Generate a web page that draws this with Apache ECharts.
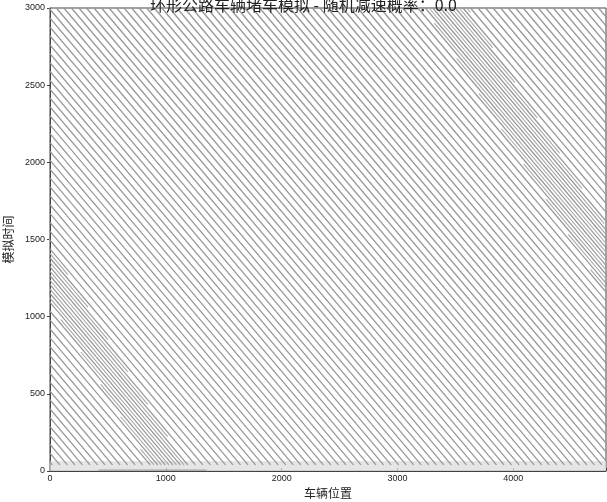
<!DOCTYPE html>
<html><head><meta charset="utf-8">
<script src="https://cdn.jsdelivr.net/npm/echarts@6/dist/echarts.min.js"></script>
<style>html,body{margin:0;padding:0;background:#fff}#c{width:607px;height:502px}</style>
</head><body><div id="c"></div>
<script>
const titleText = '环形公路车辆堵车模拟 - 随机减速概率：0.0';
const xName = '车辆位置';
const yName = '模拟时间';
const xTicks = [0, 1000, 2000, 3000, 4000];
const yTicks = [0, 500, 1000, 1500, 2000, 2500, 3000];
// position at t = 0 of each visible trajectory stripe
const stripeBaseX = [0,65,130,195,260,325,390,455,520,585,650,715,780,845,910,975,1040,1105,1170,1235,1300,1365,1430,1495,1560,1625,1690,1755,1820,1885,1950,2015,2080,2145,2210,2275,2340,2405,2470,2535,2600,2665,2730,2795,2860,2925,2990,3055,3120,3185,3250,3315,3380,3445,3510,3575,3640,3705,3770,3835,3900,3965,4030,4095,4160,4225,4290,4355,4420,4485,4550,4615,4680,4745,4810,4875,4940,5005,5070,5135,5200,5265,5330,5395,5460,5525,5590,5655,5720,5785,5850,5915,5980,6045,6110,6175,6240,6305,6370,6435,6500,6565,6630,6695,6760,6825,6890,6955,7020,7085,7150,7215,7280,7345,7410,7475,7540,7605,7670,7735,7800,7865,7930,7995,8060,8125,8190];
const stripeDrift = -1.13;          // position change per time step along a stripe
const stripeStartT = 40;            // stripes emerge from the initial transient here
// jam-wave bands (denser stripes): centre position at t=0, drift, half width
const bandCentreX0 = [5955, 1048];
const bandDrift = [-0.845, -0.82];
const bandHalfWidth = [185, 150];
const bandInterleave = [32];
// initial transient strip
const transientT = [0, 65];
const transientStreakX = [420, 1350];
const transientStreakT = 8;
const xMax = 4800, tMax = 3000;

const mainLines = stripeBaseX.map(x0 => ({
  coords: [[x0 + stripeDrift * stripeStartT, stripeStartT], [x0 + stripeDrift * tMax, tMax]]
}));
const bandLines = [];
bandCentreX0.forEach((c0, b) => {
  const r = stripeDrift - bandDrift[b];
  const w = bandHalfWidth[b];
  stripeBaseX.forEach(xb => {
    bandInterleave.forEach(off => {
      const x0 = xb + off;
      const d = x0 - c0;
      const t1 = (-w - d) / r, t2 = (w - d) / r;
      const lo = Math.max(Math.min(t1, t2), stripeStartT), hi = Math.min(Math.max(t1, t2), tMax);
      if (hi > lo) bandLines.push({ coords: [[x0 + stripeDrift * lo, lo], [x0 + stripeDrift * hi, hi]] });
    });
  });
});

const chart = echarts.init(document.getElementById('c'), null, { renderer: 'canvas' });
chart.setOption({
  animation: false,
  backgroundColor: '#fff',
  title: {
    text: titleText, left: 145, top: -8,
    textStyle: { fontFamily: 'Noto Sans CJK SC', fontSize: 16, fontWeight: 'normal', color: '#222' }
  },
  grid: { left: 50, right: 1, top: 8, bottom: 31, outerBoundsMode: 'none', containLabel: false,
    show: true, borderColor: '#444', borderWidth: 1, backgroundColor: 'transparent' },
  xAxis: {
    type: 'value', min: 0, max: xMax, interval: 1000,
    name: xName, nameLocation: 'middle', nameGap: 12,
    nameTextStyle: { fontFamily: 'Noto Sans CJK SC', fontSize: 12, color: '#222' },
    axisLine: { lineStyle: { color: '#444' } },
    axisTick: { inside: true, length: 3, lineStyle: { color: '#444' } },
    axisLabel: { fontSize: 9, color: '#222', margin: 3, fontFamily: 'Liberation Sans',
      formatter: v => xTicks.includes(v) ? String(v) : '' },
    splitLine: { show: false }
  },
  yAxis: {
    type: 'value', min: 0, max: tMax, interval: 500,
    name: yName, nameLocation: 'middle', nameGap: 33,
    nameTextStyle: { fontFamily: 'Noto Sans CJK SC', fontSize: 12, color: '#222' },
    axisLine: { lineStyle: { color: '#444' } },
    axisTick: { inside: false, length: 3, lineStyle: { color: '#444' } },
    axisLabel: { fontSize: 9, color: '#222', margin: 5, fontFamily: 'Liberation Sans',
      formatter: v => yTicks.includes(v) ? String(v) : '' },
    splitLine: { show: false }
  },
  series: [
    {
      type: 'lines', coordinateSystem: 'cartesian2d', clip: true, silent: true,
      lineStyle: { color: '#969696', width: 1.25, opacity: 1 },
      data: mainLines,
      markArea: {
        silent: true,
        itemStyle: { color: 'rgba(220,220,220,0.75)' },
        data: [[{ yAxis: transientT[0] }, { yAxis: transientT[1] }]]
      }
    },
    {
      type: 'lines', coordinateSystem: 'cartesian2d', clip: true, silent: true,
      lineStyle: { color: '#a8a8a8', width: 1.1, opacity: 1 },
      data: bandLines
    },
    {
      type: 'lines', coordinateSystem: 'cartesian2d', clip: true, silent: true,
      lineStyle: { color: 'rgba(80,80,80,0.45)', width: 2 },
      data: [{ coords: [[transientStreakX[0], transientStreakT], [transientStreakX[1], transientStreakT]] }]
    }
  ]
});
</script></body></html>
